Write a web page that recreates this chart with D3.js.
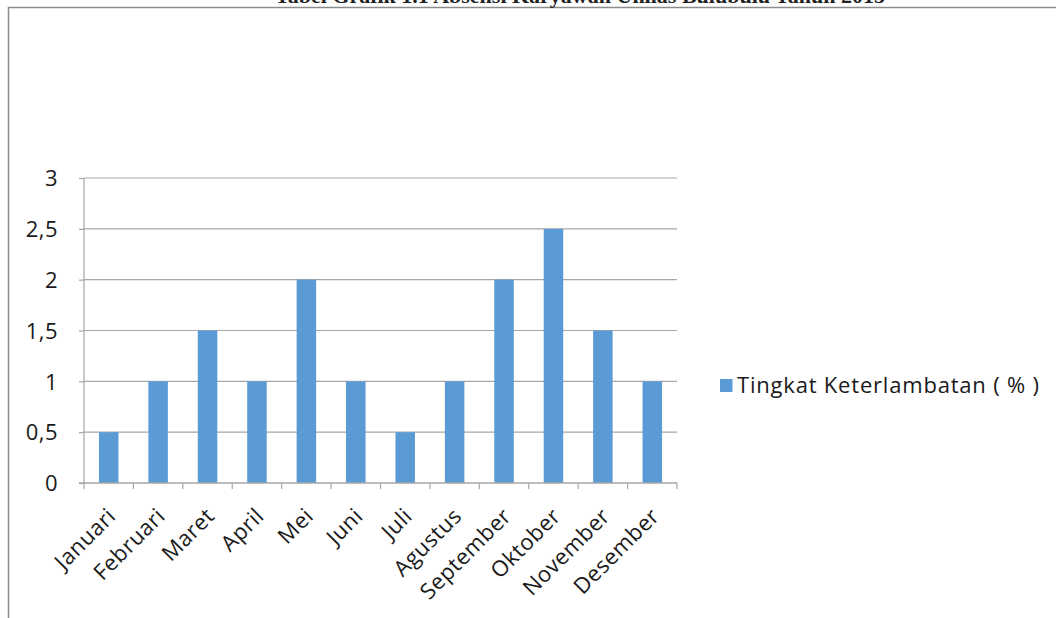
<!DOCTYPE html>
<html><head><meta charset="utf-8">
<script src="https://cdn.jsdelivr.net/npm/d3@7"></script>
<style>
html,body{margin:0;padding:0;background:#fff;}
svg{display:block;}
</style></head>
<body>
<svg id="c" width="1056" height="618"></svg>
<script>
const title = "Tabel Grafik 1.1 Absensi Karyawan Unilas Bulubulu Tahun 2015";
const categories = ["Januari","Februari","Maret","April","Mei","Juni","Juli","Agustus","September","Oktober","November","Desember"];
const values = [0.5,1,1.5,1,2,1,0.5,1,2,2.5,1.5,1];
const yTicks = [0,0.5,1,1.5,2,2.5,3];
const seriesName = "Tingkat Keterlambatan ( % )";

const svg = d3.select("#c");
const font = "'Open Sans', 'Noto Sans', sans-serif";
const color = "#5b9bd5";
const gridColor = "#a6a6a6";
const textColor = "#1a1a1a";

// frame
svg.append("path").attr("d","M8.5,618 L8.5,7.5 L1056,7.5").attr("fill","none").attr("stroke","#8c8c8c").attr("stroke-width",1.5);

// title (cut at top, as in the reference)
svg.append("text").attr("x",580).attr("y",3).attr("text-anchor","middle")
  .attr("font-family","'Liberation Serif', serif").attr("font-size",22).attr("font-weight","bold")
  .attr("fill","#222").text(title);

const xb = d3.scaleBand().domain(categories).range([84,677]);
const y = d3.scaleLinear().domain([0,3]).range([483,178]);

// gridlines
svg.append("g").selectAll("line").data(yTicks.filter(d=>d>0)).join("line")
  .attr("x1",84).attr("x2",677).attr("y1",d=>y(d)).attr("y2",d=>y(d))
  .attr("stroke",gridColor).attr("stroke-width",1.2);

// y axis
const yAxis = d3.axisLeft(y).tickValues(yTicks).tickSize(5).tickPadding(21)
  .tickFormat(d=>String(d).replace(".",","));
const gy = svg.append("g").attr("transform","translate(84,0)").call(yAxis);
gy.select(".domain").attr("stroke",gridColor).attr("stroke-width",1.2).attr("d","M0,178V483");
gy.selectAll(".tick line").attr("stroke",gridColor).attr("stroke-width",1.2);
gy.selectAll("text").attr("font-family",font).attr("font-size",22).attr("letter-spacing",0.5)
  .attr("fill",textColor).attr("dy","0.35em");

// bars
svg.append("g").selectAll("rect").data(values).join("rect")
  .attr("x",(d,i)=>xb(categories[i])+xb.bandwidth()/2-9.75)
  .attr("width",19.5)
  .attr("y",d=>y(d)).attr("height",d=>y(0)-y(d))
  .attr("fill",color);

// x axis
const gx = svg.append("g").attr("transform","translate(0,483)");
gx.append("line").attr("x1",79).attr("x2",677).attr("y1",0).attr("y2",0).attr("stroke",gridColor).attr("stroke-width",1.4);
const tickPos = categories.map(c=>xb(c)).concat([677]);
gx.selectAll("line.t").data(tickPos).join("line").attr("class","t")
  .attr("x1",d=>d).attr("x2",d=>d).attr("y1",0).attr("y2",6).attr("stroke",gridColor).attr("stroke-width",1.2);
gx.selectAll("text").data(categories).join("text")
  .attr("transform",d=>`translate(${xb(d)+xb.bandwidth()/2+3},29) rotate(-45)`)
  .attr("text-anchor","end").attr("dy","0.35em").attr("letter-spacing",0.5)
  .attr("font-family",font).attr("font-size",22).attr("fill",textColor).text(d=>d);

// legend
const lg = svg.append("g").attr("transform","translate(720,379)");
lg.append("rect").attr("x",0).attr("y",0).attr("width",12.5).attr("height",13).attr("fill",color);
lg.append("text").attr("x",17).attr("y",6.5).attr("dy","0.35em").attr("font-family",font).attr("font-size",22)
  .attr("letter-spacing",0.8).attr("fill",textColor).text(seriesName);
</script>
</body></html>
